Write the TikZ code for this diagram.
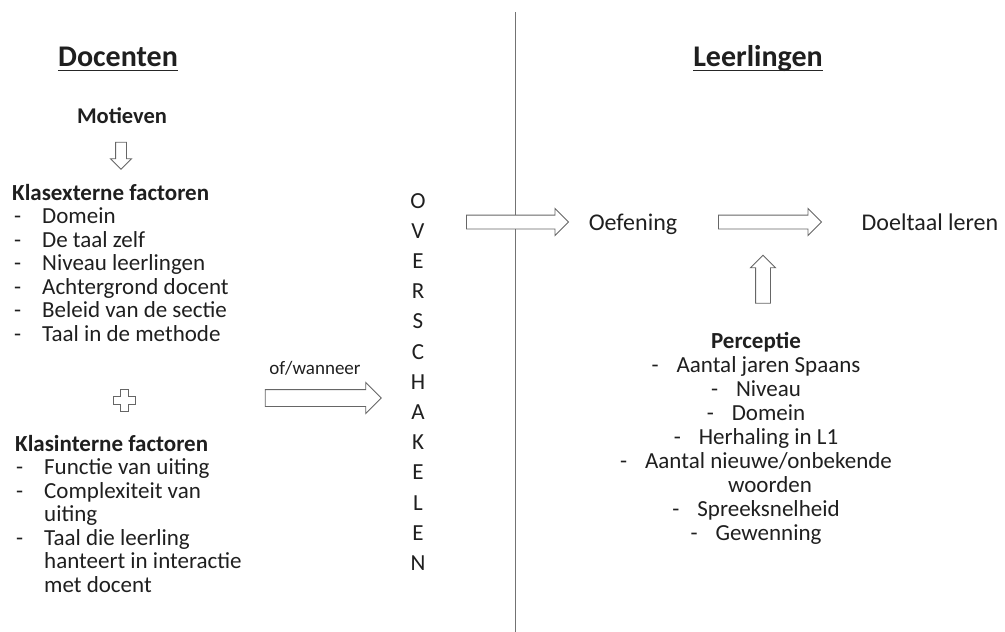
\documentclass[tikz,border=0pt]{standalone}
\usepackage{fontspec}
\setmainfont{Carlito}
\usetikzlibrary{positioning}
\usetikzlibrary{shapes.arrows}
\tikzset{
        text_plain/.style={inner sep=0pt, text=black!88},
        % Underlined headings
        text_head/.style={text_plain, font=\fontsize{30}{36}\selectfont\bfseries},
        % Lists of factors
        text_list/.style={text_plain, font=\fontsize{23}{23.5}\selectfont},
        % Hollow block arrows
        arrow_block/.style={single arrow, draw=black!60, fill=white, line width=0.9pt,
                inner xsep=0pt, text height=0pt, text depth=0pt, single arrow tip angle=90}
}
\begin{document}
\begin{tikzpicture}[x=1pt, y=-1pt]
            \useasboundingbox (0,0) rectangle (1005,632);
            % dividing line
            \coordinate (line_top) at (515,12);
            \coordinate (line_bottom) at (515,632);
            \draw[black!55, line width=0.9pt] (line_top) -- (line_bottom);

            % Docenten
            \node[text_head, anchor=base] (docenten) at (118,66) {Docenten};
            \draw[black!85, line width=1.3pt] ([yshift=-4.5pt]docenten.base west) -- ([yshift=-4.5pt]docenten.base east);
            \node[text_plain, anchor=base, font=\fontsize{22.5}{27}\selectfont\bfseries] (motieven) at (122,123) {Motieven};
            \node[arrow_block, rotate=-90, inner ysep=5pt, single arrow head extend=5pt, minimum height=27pt] (arrow_motieven) at (121,153) {};
            \node[text_list, anchor=base west] (klasextern) at (12,200) {%
                \begin{tabular}[t]{@{\hspace{2pt}}p{28pt}@{}l@{}}
                    \multicolumn{2}{@{}l@{}}{\bfseries Klasexterne factoren}\\
                    - & Domein\\
                    - & De taal zelf\\
                    - & Niveau leerlingen\\
                    - & Achtergrond docent\\
                    - & Beleid van de sectie\\
                    - & Taal in de methode
                \end{tabular}};
            % plus sign
            \draw[black!60, line width=0.9pt, fill=white]
                (120,389) -- (128,389) -- (128,396) -- (135,396) -- (135,404) -- (128,404)
                -- (128,411) -- (120,411) -- (120,404) -- (113,404) -- (113,396) -- (120,396) -- cycle;
            \node[text_list, anchor=base west] (klasintern) at (15,451) {%
                \begin{tabular}[t]{@{\hspace{1pt}}p{28pt}@{}l@{}}
                    \multicolumn{2}{@{}l@{}}{\bfseries Klasinterne factoren}\\
                    - & Functie van uiting\\
                    - & Complexiteit van\\
                      & uiting\\
                    - & Taal die leerling\\
                      & hanteert in interactie\\
                      & met docent
                \end{tabular}};

            % switching
            \node[arrow_block, inner ysep=8pt, single arrow head extend=7pt, minimum height=116pt] (arrow_of) at (319,398) {};
            \node[text_plain, anchor=base, font=\fontsize{19}{23}\selectfont] (ofwanneer) at (315,374) {of/wanneer};
            \node[text_plain, anchor=base, font=\fontsize{23}{30.2}\selectfont] (overschakelen) at (418,208) {%
                \begin{tabular}[t]{@{}c@{}}
                    O\\ V\\ E\\ R\\ S\\ C\\ H\\ A\\ K\\ E\\ L\\ E\\ N
                \end{tabular}};

            % Leerlingen
            \node[text_head, anchor=base] (leerlingen) at (758,66) {Leerlingen};
            \draw[black!85, line width=1.3pt] ([yshift=-4.5pt]leerlingen.base west) -- ([yshift=-4.5pt]leerlingen.base east);
            \node[arrow_block, inner ysep=6.5pt, single arrow head extend=6.5pt, minimum height=102pt] (arrow_oefening) at (514,222) {};
            \node[text_plain, anchor=base, font=\fontsize{24}{28}\selectfont] (oefening) at (633,230) {Oefening};
            \node[arrow_block, inner ysep=6.5pt, single arrow head extend=6.5pt, minimum height=103pt] (arrow_doel) at (766.5,222) {};
            \node[text_plain, anchor=base, font=\fontsize{24}{28}\selectfont] (doeltaal) at (930,230) {Doeltaal leren};
            \node[arrow_block, rotate=90, inner ysep=7pt, single arrow head extend=5pt, minimum height=48pt] (arrow_perceptie) at (763,283) {};
            \node[text_plain, anchor=base, font=\fontsize{23}{24}\selectfont] (perceptie) at (756,348) {%
                \begin{tabular}[t]{@{}c@{}}
                    \bfseries Perceptie\\
                    -\hspace{18pt}Aantal jaren Spaans\\
                    -\hspace{18pt}Niveau\\
                    -\hspace{18pt}Domein\\
                    -\hspace{18pt}Herhaling in L1\\
                    -\hspace{18pt}Aantal nieuwe/onbekende\\
                    \hspace*{28pt}woorden\\
                    -\hspace{18pt}Spreeksnelheid\\
                    -\hspace{18pt}Gewenning
                \end{tabular}};
\end{tikzpicture}
\end{document}
